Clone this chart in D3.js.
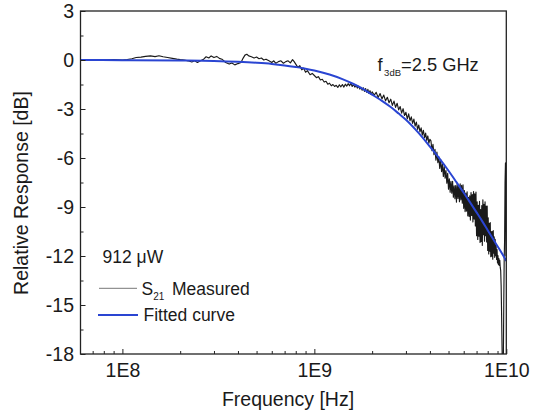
<!DOCTYPE html>
<html><head><meta charset="utf-8">
<script src="https://cdn.jsdelivr.net/npm/d3@7"></script>
<style>body{margin:0;background:#fff}svg{display:block}text{font-family:"Liberation Sans",Arial,sans-serif;fill:#1a1a1a}</style>
</head><body>
<svg id="c" width="541" height="413"></svg>
<script>
// ---------- data ----------
const fitFreqHz = [6.05e7,1e8,2e8,3e8,4e8,5e8,6e8,7e8,8e8,9e8,1e9,1.2e9,1.4e9,1.6e9,1.8e9,2e9,2.25e9,2.5e9,2.75e9,3e9,3.5e9,4e9,4.5e9,5e9,5.5e9,6e9,6.5e9,7e9,7.5e9,8e9,8.5e9,9e9,9.5e9,1e10];
const fitDb = [0,-0.01,-0.03,-0.06,-0.11,-0.17,-0.24,-0.33,-0.43,-0.53,-0.64,-0.89,-1.17,-1.47,-1.79,-2.12,-2.5,-2.88,-3.28,-3.66,-4.48,-5.3,-6.05,-6.78,-7.48,-8.13,-8.75,-9.33,-9.88,-10.42,-10.93,-11.4,-11.85,-12.3];

const measFreqGHz = [
0.0605,0.070,0.080,0.090,0.100,0.106,0.112,0.118,0.125,0.132,0.140,0.148,0.155,0.163,0.172,0.182,0.192,0.200,
0.210,0.220,0.230,0.238,0.246,0.255,0.265,0.273,0.282,0.290,0.300,0.310,0.320,0.330,0.345,0.360,0.372,0.385,
0.400,0.415,0.425,0.435,0.445,0.455,0.470,0.485,0.500,0.515,0.530,0.545,0.560,0.580,0.600,0.615,0.630,0.650,
0.670,0.690,0.710,0.730,0.750,0.770,0.785,0.800,0.820,0.840,0.860,0.880,0.900,0.920,0.950,0.975,
1.000,1.025,1.050,1.075,1.100,1.125,1.150,1.175,1.200,1.225,1.250,1.275,1.300,1.325,1.350,1.375,1.400,1.425,
1.450,1.475,1.500,1.525,1.550,1.575,1.600,1.625,1.650,1.675,1.700,1.725,1.750,1.775,1.800,1.825,1.850,1.875,
1.900,1.925,1.950,1.975,2.000,
2.05,2.10,2.15,2.20,2.25,2.30,2.35,2.40,2.45,2.50,2.55,2.60,2.65,2.70,2.75,2.80,2.85,2.90,2.95,3.00,
3.05,3.10,3.15,3.20,3.25,3.30,3.35,3.40,3.45,3.50,3.55,3.60,3.65,3.70,3.75,3.80,3.85,3.90,3.95,4.00,
4.05,4.10,4.15,4.20,4.25,4.30,4.35,4.40,4.45,4.50,4.55,4.60,4.65,4.70,4.75,4.80,4.85,4.90,4.95,5.00,
5.05,5.10,5.15,5.20,5.25,5.30,5.35,5.40,5.45,5.50,5.55,5.60,5.65,5.70,5.75,5.80,5.85,5.90,5.95,6.00,
6.05,6.10,6.15,6.20,6.25,6.30,6.35,6.40,6.45,6.50,6.55,6.60,6.65,6.70,6.75,6.80,6.85,6.90,6.95,7.00,
7.05,7.10,7.15,7.20,7.25,7.30,7.35,7.40,7.45,7.50,7.55,7.60,7.65,7.70,7.75,7.80,7.85,7.90,7.95,8.00,
8.05,8.10,8.15,8.20,8.25,8.30,8.35,8.40,8.45,8.50,8.55,8.60,8.65,8.70,8.75,8.80,8.85,8.90,8.95,9.00,
9.05,9.10,9.15,9.20,9.25,9.30,9.35,9.40,9.45,9.50,9.55,9.60,9.65,9.70,9.75,9.80,9.85,9.90,9.93,9.96,10.00];

const measDb = [
0.00,0.01,-0.01,0.02,0.00,0.03,0.08,0.15,0.18,0.22,0.25,0.21,0.26,0.20,0.15,0.10,0.05,0.02,
0.00,-0.05,-0.12,-0.05,-0.15,-0.05,0.05,0.20,0.12,0.25,0.15,0.22,0.10,0.05,-0.15,-0.25,-0.18,-0.30,
-0.22,-0.15,0.10,0.30,0.35,0.25,0.20,0.12,0.18,0.08,0.12,0.00,0.05,-0.05,-0.15,-0.05,-0.20,-0.10,
-0.05,-0.20,-0.10,-0.05,-0.18,0.02,-0.10,-0.25,-0.45,-0.35,-0.60,-0.50,-0.75,-0.65,-0.90,-0.82,
-0.95,-1.08,-1.02,-1.22,-1.18,-1.35,-1.30,-1.48,-1.42,-1.58,-1.50,-1.62,-1.55,-1.68,-1.52,-1.64,-1.50,-1.66,
-1.48,-1.60,-1.45,-1.58,-1.42,-1.62,-1.50,-1.66,-1.55,-1.72,-1.60,-1.78,-1.68,-1.85,-1.70,-1.92,-1.75,-1.98,
-1.80,-2.05,-1.88,-2.12,-1.95,
-2.15,-1.98,-2.30,-2.05,-2.38,-2.15,-2.50,-2.28,-2.62,-2.40,-2.78,-2.52,-2.90,-2.65,-3.05,-2.85,-3.25,-2.98,-3.40,-3.20,
-3.60,-3.30,-3.72,-3.48,-3.88,-3.62,-4.05,-3.80,-4.25,-3.98,-4.40,-4.15,-4.60,-4.30,-4.75,-4.48,-4.92,-4.65,-5.10,-4.85,
-4.95,-5.55,-5.16,-5.79,-5.47,-6.13,-5.64,-6.29,-5.92,-6.64,-6.10,-6.83,-6.39,-7.13,-6.52,-7.23,-6.77,-7.54,-6.94,-7.91,
-7.28,-8.10,-7.43,-8.15,-7.43,-8.40,-7.70,-8.49,-7.69,-8.70,-7.58,-8.48,-7.67,-8.68,-7.58,-8.56,-7.68,-8.77,-7.64,-9.08,
-7.99,-9.28,-8.15,-9.25,-8.07,-9.54,-8.41,-9.58,-8.32,-9.80,-8.11,-9.52,-8.24,-9.91,-8.05,-9.74,-8.20,-10.16,-8.09,-10.76,
-8.69,-10.99,-8.89,-10.79,-8.66,-11.17,-9.16,-11.11,-8.92,-11.35,-8.56,-10.70,-8.84,-11.09,-8.68,-10.76,-8.95,-11.14,-8.94,-11.66,
-9.66,-11.88,-10.00,-11.71,-9.96,-12.04,-10.51,-12.01,-10.50,-12.20,-10.45,-11.82,-10.83,-12.08,-10.98,-11.98,-11.34,-12.21,-11.60,-12.42,
-11.98,-12.53,-12.16,-12.57,-12.27,-12.70,-12.90,-13.80,-15.50,-17.50,-19.00,-19.50,-18.50,-15.00,-12.20,-11.00,-7.50,-6.30,-9.00,-12.00,-11.50];

const xMajorTicks = [1e8, 1e9, 1e10];
const xTickLabels = ["1E8", "1E9", "1E10"];
const xMinorTicks = [7e7,8e7,9e7,2e8,3e8,4e8,5e8,6e8,7e8,8e8,9e8,2e9,3e9,4e9,5e9,6e9,7e9,8e9,9e9];
const yMajorTicks = [3, 0, -3, -6, -9, -12, -15, -18];
const yMinorTicks = [1.5, -1.5, -4.5, -7.5, -10.5, -13.5, -16.5];

// ---------- layout ----------
const L = 80.5, R = 506.3, T = 11, B = 354;
const x = d3.scaleLog().domain([6.05e7, 1e10]).range([L, R]);
const y = d3.scaleLinear().domain([-18, 3]).range([B, T]);
const svg = d3.select("#c");
const FS = 19.5;

svg.append("defs").append("clipPath").attr("id","clip")
  .append("rect").attr("x",L).attr("y",T).attr("width",R-L).attr("height",B-T);

// measured trace
const meas = measFreqGHz.map((f,i)=>[f*1e9, measDb[i]]);
svg.append("path").datum(meas)
  .attr("clip-path","url(#clip)")
  .attr("fill","none").attr("stroke","#1a1a1a").attr("stroke-width",1.15).attr("stroke-linejoin","round")
  .attr("d", d3.line().x(d=>x(d[0])).y(d=>y(d[1])));

// fitted curve
const fit = fitFreqHz.map((f,i)=>[f, fitDb[i]]);
svg.append("path").datum(fit)
  .attr("clip-path","url(#clip)")
  .attr("fill","none").attr("stroke","#2a45d2").attr("stroke-width",2)
  .attr("d", d3.line().curve(d3.curveMonotoneX).x(d=>x(d[0])).y(d=>y(d[1])));

// axes
function styleAxis(g){ g.select(".domain").remove(); g.selectAll("line").attr("stroke","#222").attr("stroke-width",1);
  g.selectAll("text").attr("font-size",FS).attr("fill","#1a1a1a").attr("font-family",'"Liberation Sans",Arial,sans-serif'); }

svg.append("g").attr("transform",`translate(0,${B})`)
  .call(d3.axisBottom(x).tickValues(xMajorTicks).tickFormat((d,i)=>xTickLabels[i]).tickSizeInner(-5).tickSizeOuter(0).tickPadding(9))
  .call(styleAxis);
svg.append("g").attr("transform",`translate(0,${B})`)
  .call(d3.axisBottom(x).tickValues(xMinorTicks).tickFormat("").tickSizeInner(-3).tickSizeOuter(0))
  .call(styleAxis);
svg.append("g").attr("transform",`translate(${L},0)`)
  .call(d3.axisLeft(y).tickValues(yMajorTicks).tickFormat(d=>String(d)).tickSizeInner(-5).tickSizeOuter(0).tickPadding(6.5))
  .call(styleAxis);
svg.append("g").attr("transform",`translate(${L},0)`)
  .call(d3.axisLeft(y).tickValues(yMinorTicks).tickFormat("").tickSizeInner(-3).tickSizeOuter(0))
  .call(styleAxis);

// frame
svg.append("rect").attr("x",L).attr("y",T).attr("width",R-L).attr("height",B-T)
  .attr("fill","none").attr("stroke","#222").attr("stroke-width",1.3);

// axis titles
svg.append("text").attr("x",288).attr("y",405.5).attr("text-anchor","middle").attr("font-size",FS).text("Frequency [Hz]");
svg.append("text").attr("transform","translate(27.5,193) rotate(-90)").attr("text-anchor","middle").attr("font-size",FS).text("Relative Response [dB]");

// annotation
const ann = svg.append("text").attr("x",377.5).attr("y",70.5).attr("font-size",18.3);
ann.append("tspan").text("f");
ann.append("tspan").attr("font-size",9.5).attr("dx",1.5).attr("dy",5.5).text("3dB");
ann.append("tspan").attr("dy",-5.5).text("=2.5 GHz");

svg.append("text").attr("x",102.5).attr("y",263.3).attr("font-size",17.5).text("912 \u03BCW");

// legend
svg.append("line").attr("x1",99).attr("x2",137).attr("y1",288.3).attr("y2",288.3).attr("stroke","#777").attr("stroke-width",1);
const lg = svg.append("text").attr("x",141.5).attr("y",295).attr("font-size",17.5);
lg.append("tspan").text("S");
lg.append("tspan").attr("font-size",10).attr("dy",5).text("21");
svg.append("text").attr("x",172).attr("y",295).attr("font-size",17.5).text("Measured");
svg.append("line").attr("x1",98).attr("x2",138).attr("y1",315).attr("y2",315).attr("stroke","#2a45d2").attr("stroke-width",2);
svg.append("text").attr("x",143.5).attr("y",320.7).attr("font-size",17.5).text("Fitted curve");
</script>
</body></html>
